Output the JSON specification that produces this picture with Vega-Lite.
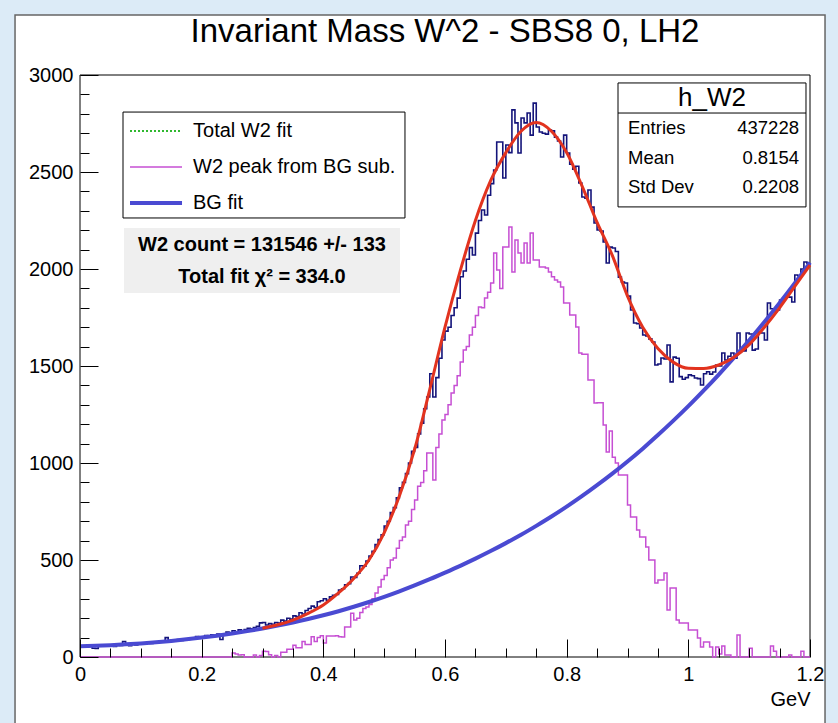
{
  "$schema": "https://vega.github.io/schema/vega-lite/v6.json",
  "width": 730,
  "height": 582,
  "autosize": {"type": "none"},
  "padding": {"left": 80, "top": 75, "right": 28, "bottom": 66},
  "background": "#dcebf7",
  "config": {"view": {"stroke": null}, "font": "Liberation Sans", "text": {"font": "Liberation Sans", "color": "black"}},
  "datasets": {
    "one": [{}],
    "hist": [
      {"x":0.000,"n":52,"p":0},{"x":0.005,"n":57,"p":0},{"x":0.010,"n":55,"p":0},{"x":0.015,"n":60,"p":0},{"x":0.020,"n":45,"p":0},{"x":0.025,"n":44,"p":0},{"x":0.030,"n":58,"p":0},{"x":0.035,"n":62,"p":0},{"x":0.040,"n":56,"p":0},{"x":0.045,"n":60,"p":0},
      {"x":0.050,"n":63,"p":0},{"x":0.055,"n":55,"p":0},{"x":0.060,"n":64,"p":0},{"x":0.065,"n":60,"p":0},{"x":0.070,"n":80,"p":0},{"x":0.075,"n":66,"p":0},{"x":0.080,"n":58,"p":0},{"x":0.085,"n":70,"p":0},{"x":0.090,"n":62,"p":0},{"x":0.095,"n":68,"p":0},
      {"x":0.100,"n":72,"p":0},{"x":0.105,"n":66,"p":0},{"x":0.110,"n":75,"p":0},{"x":0.115,"n":70,"p":0},{"x":0.120,"n":78,"p":0},{"x":0.125,"n":72,"p":0},{"x":0.130,"n":80,"p":0},{"x":0.135,"n":76,"p":0},{"x":0.140,"n":100,"p":0},{"x":0.145,"n":78,"p":0},
      {"x":0.150,"n":86,"p":0},{"x":0.155,"n":82,"p":0},{"x":0.160,"n":90,"p":0},{"x":0.165,"n":85,"p":0},{"x":0.170,"n":94,"p":0},{"x":0.175,"n":90,"p":0},{"x":0.180,"n":98,"p":0},{"x":0.185,"n":95,"p":0},{"x":0.190,"n":105,"p":0},{"x":0.195,"n":100,"p":0},
      {"x":0.200,"n":104,"p":0},{"x":0.205,"n":110,"p":0},{"x":0.210,"n":106,"p":0},{"x":0.215,"n":115,"p":0},{"x":0.220,"n":112,"p":0},{"x":0.225,"n":118,"p":0},{"x":0.230,"n":90,"p":0},{"x":0.235,"n":120,"p":0},{"x":0.240,"n":128,"p":0},{"x":0.245,"n":124,"p":0},
      {"x":0.250,"n":135,"p":20},{"x":0.255,"n":130,"p":15},{"x":0.260,"n":140,"p":10},{"x":0.265,"n":136,"p":12},{"x":0.270,"n":142,"p":0},{"x":0.275,"n":148,"p":0},{"x":0.280,"n":145,"p":0},{"x":0.285,"n":152,"p":10},{"x":0.290,"n":158,"p":0},{"x":0.295,"n":176,"p":8},
      {"x":0.300,"n":178,"p":30},{"x":0.305,"n":165,"p":28},{"x":0.310,"n":172,"p":12},{"x":0.315,"n":168,"p":0},{"x":0.320,"n":178,"p":8},{"x":0.325,"n":175,"p":0},{"x":0.330,"n":190,"p":25},{"x":0.335,"n":185,"p":25},{"x":0.340,"n":200,"p":40},{"x":0.345,"n":195,"p":40},
      {"x":0.350,"n":212,"p":60},{"x":0.355,"n":208,"p":48},{"x":0.360,"n":228,"p":48},{"x":0.365,"n":222,"p":80},{"x":0.370,"n":240,"p":65},{"x":0.375,"n":250,"p":65},{"x":0.380,"n":262,"p":105},{"x":0.385,"n":255,"p":80},{"x":0.390,"n":285,"p":100},{"x":0.395,"n":290,"p":110},
      {"x":0.400,"n":300,"p":72},{"x":0.405,"n":292,"p":108},{"x":0.410,"n":310,"p":108},{"x":0.415,"n":318,"p":108},{"x":0.420,"n":322,"p":110},{"x":0.425,"n":345,"p":105},{"x":0.430,"n":352,"p":103},{"x":0.435,"n":372,"p":155},{"x":0.440,"n":378,"p":155},{"x":0.445,"n":412,"p":225},
      {"x":0.450,"n":410,"p":191},{"x":0.455,"n":432,"p":200},{"x":0.460,"n":470,"p":230},{"x":0.465,"n":468,"p":250},{"x":0.470,"n":495,"p":258},{"x":0.475,"n":520,"p":270},{"x":0.480,"n":545,"p":300},{"x":0.485,"n":580,"p":330},{"x":0.490,"n":605,"p":361},{"x":0.495,"n":630,"p":400},
      {"x":0.500,"n":675,"p":420},{"x":0.505,"n":700,"p":460},{"x":0.510,"n":745,"p":500},{"x":0.515,"n":770,"p":510},{"x":0.520,"n":820,"p":560},{"x":0.525,"n":872,"p":600},{"x":0.530,"n":900,"p":619},{"x":0.535,"n":945,"p":680},{"x":0.540,"n":1000,"p":700},{"x":0.545,"n":1060,"p":760},
      {"x":0.550,"n":1080,"p":809},{"x":0.555,"n":1150,"p":880},{"x":0.560,"n":1205,"p":900},{"x":0.565,"n":1280,"p":960},{"x":0.570,"n":1340,"p":1052},{"x":0.575,"n":1460,"p":1052},{"x":0.580,"n":1340,"p":912},{"x":0.585,"n":1440,"p":1080},{"x":0.590,"n":1540,"p":1150},{"x":0.595,"n":1634,"p":1222},
      {"x":0.600,"n":1680,"p":1250},{"x":0.605,"n":1700,"p":1300},{"x":0.610,"n":1760,"p":1361},{"x":0.615,"n":1800,"p":1400},{"x":0.620,"n":1850,"p":1450},{"x":0.625,"n":1960,"p":1520},{"x":0.630,"n":1990,"p":1582},{"x":0.635,"n":2050,"p":1600},{"x":0.640,"n":2110,"p":1660},{"x":0.645,"n":2072,"p":1700},
      {"x":0.650,"n":2185,"p":1760},{"x":0.655,"n":2250,"p":1804},{"x":0.660,"n":2304,"p":1800},{"x":0.665,"n":2278,"p":1850},{"x":0.670,"n":2380,"p":1880},{"x":0.675,"n":2440,"p":1928},{"x":0.680,"n":2510,"p":2082},{"x":0.685,"n":2655,"p":1995},{"x":0.690,"n":2655,"p":1900},{"x":0.695,"n":2469,"p":2113},
      {"x":0.700,"n":2639,"p":2113},{"x":0.705,"n":2600,"p":2216},{"x":0.710,"n":2820,"p":1985},{"x":0.715,"n":2753,"p":2149},{"x":0.720,"n":2598,"p":2082},{"x":0.725,"n":2778,"p":2031},{"x":0.730,"n":2753,"p":2134},{"x":0.735,"n":2804,"p":2031},{"x":0.740,"n":2690,"p":2185},{"x":0.745,"n":2855,"p":2046},
      {"x":0.750,"n":2732,"p":2046},{"x":0.755,"n":2706,"p":2010},{"x":0.760,"n":2700,"p":2010},{"x":0.765,"n":2695,"p":2005},{"x":0.770,"n":2716,"p":1985},{"x":0.775,"n":2712,"p":1960},{"x":0.780,"n":2680,"p":1943},{"x":0.785,"n":2660,"p":1933},{"x":0.790,"n":2577,"p":1907},{"x":0.795,"n":2690,"p":1825},
      {"x":0.800,"n":2598,"p":1825},{"x":0.805,"n":2540,"p":1763},{"x":0.810,"n":2515,"p":1763},{"x":0.815,"n":2530,"p":1701},{"x":0.820,"n":2443,"p":1567},{"x":0.825,"n":2371,"p":1560},{"x":0.830,"n":2365,"p":1560},{"x":0.835,"n":2407,"p":1428},{"x":0.840,"n":2319,"p":1428},{"x":0.845,"n":2237,"p":1309},
      {"x":0.850,"n":2201,"p":1310},{"x":0.855,"n":2195,"p":1310},{"x":0.860,"n":2139,"p":1196},{"x":0.865,"n":2031,"p":1057},{"x":0.870,"n":2113,"p":1165},{"x":0.875,"n":2108,"p":1030},{"x":0.880,"n":2090,"p":1000},{"x":0.885,"n":1958,"p":938},{"x":0.890,"n":1933,"p":938},{"x":0.895,"n":1928,"p":938},
      {"x":0.900,"n":1860,"p":783},{"x":0.905,"n":1789,"p":722},{"x":0.910,"n":1722,"p":722},{"x":0.915,"n":1718,"p":655},{"x":0.920,"n":1696,"p":619},{"x":0.925,"n":1660,"p":619},{"x":0.930,"n":1655,"p":567},{"x":0.935,"n":1640,"p":500},{"x":0.940,"n":1624,"p":500},{"x":0.945,"n":1505,"p":381},
      {"x":0.950,"n":1510,"p":397},{"x":0.955,"n":1541,"p":397},{"x":0.960,"n":1536,"p":433},{"x":0.965,"n":1608,"p":242},{"x":0.970,"n":1418,"p":356},{"x":0.975,"n":1546,"p":356},{"x":0.980,"n":1540,"p":191},{"x":0.985,"n":1445,"p":175},{"x":0.990,"n":1432,"p":175},{"x":0.995,"n":1440,"p":175},
      {"x":1.000,"n":1454,"p":139},{"x":1.005,"n":1450,"p":139},{"x":1.010,"n":1438,"p":139},{"x":1.015,"n":1435,"p":98},{"x":1.020,"n":1402,"p":52},{"x":1.025,"n":1460,"p":77},{"x":1.030,"n":1470,"p":77},{"x":1.035,"n":1458,"p":52},{"x":1.040,"n":1469,"p":0},{"x":1.045,"n":1505,"p":52},
      {"x":1.050,"n":1500,"p":15},{"x":1.055,"n":1567,"p":57},{"x":1.060,"n":1531,"p":10},{"x":1.065,"n":1550,"p":10},{"x":1.070,"n":1567,"p":0},{"x":1.075,"n":1540,"p":0},{"x":1.080,"n":1670,"p":113},{"x":1.085,"n":1582,"p":0},{"x":1.090,"n":1578,"p":0},{"x":1.095,"n":1670,"p":0},
      {"x":1.100,"n":1665,"p":45},{"x":1.105,"n":1582,"p":0},{"x":1.110,"n":1588,"p":0},{"x":1.115,"n":1675,"p":0},{"x":1.120,"n":1670,"p":0},{"x":1.125,"n":1634,"p":0},{"x":1.130,"n":1825,"p":0},{"x":1.135,"n":1795,"p":57},{"x":1.140,"n":1780,"p":30},{"x":1.145,"n":1789,"p":0},
      {"x":1.150,"n":1840,"p":0},{"x":1.155,"n":1845,"p":0},{"x":1.160,"n":1860,"p":0},{"x":1.165,"n":1855,"p":10},{"x":1.170,"n":1830,"p":0},{"x":1.175,"n":1969,"p":0},{"x":1.180,"n":1965,"p":0},{"x":1.185,"n":2000,"p":30},{"x":1.190,"n":2036,"p":0},{"x":1.195,"n":2030,"p":0},
      {"x":1.200,"n":2030,"p":0}
    ],
    "bg": [
      {"x":0.0,"y":55},{"x":0.025,"y":57.6},{"x":0.05,"y":61},{"x":0.075,"y":65.1},{"x":0.1,"y":70},{"x":0.125,"y":76},{"x":0.15,"y":83},{"x":0.175,"y":91},{"x":0.2,"y":100},{"x":0.225,"y":110},
      {"x":0.25,"y":121},{"x":0.275,"y":133.5},{"x":0.3,"y":147},{"x":0.325,"y":161.8},{"x":0.35,"y":178},{"x":0.375,"y":195.8},{"x":0.4,"y":215},{"x":0.425,"y":236},{"x":0.45,"y":259},{"x":0.475,"y":283.5},
      {"x":0.5,"y":310},{"x":0.525,"y":338.5},{"x":0.55,"y":369},{"x":0.575,"y":401},{"x":0.6,"y":435},{"x":0.625,"y":470},{"x":0.65,"y":507},{"x":0.675,"y":546},{"x":0.7,"y":587},{"x":0.725,"y":630},
      {"x":0.75,"y":676},{"x":0.775,"y":724},{"x":0.8,"y":775},{"x":0.825,"y":829},{"x":0.85,"y":886},{"x":0.875,"y":945.5},{"x":0.9,"y":1008},{"x":0.925,"y":1074},{"x":0.95,"y":1144},{"x":0.975,"y":1217},
      {"x":1.0,"y":1293},{"x":1.025,"y":1373},{"x":1.05,"y":1456},{"x":1.075,"y":1543},{"x":1.1,"y":1633},{"x":1.125,"y":1727},{"x":1.15,"y":1825},{"x":1.175,"y":1927},{"x":1.2,"y":2033}
    ],
    "tot": [
      {"x":0.3,"y":148},{"x":0.325,"y":166},{"x":0.35,"y":190},{"x":0.375,"y":225},{"x":0.4,"y":268},{"x":0.425,"y":330},{"x":0.45,"y":405},{"x":0.475,"y":500},{"x":0.5,"y":640},{"x":0.525,"y":830},
      {"x":0.55,"y":1070},{"x":0.575,"y":1380},{"x":0.6,"y":1700},{"x":0.625,"y":1990},{"x":0.65,"y":2250},{"x":0.675,"y":2455},{"x":0.7,"y":2600},{"x":0.725,"y":2710},{"x":0.75,"y":2755},{"x":0.775,"y":2710},
      {"x":0.8,"y":2600},{"x":0.825,"y":2430},{"x":0.85,"y":2240},{"x":0.875,"y":2070},{"x":0.9,"y":1860},{"x":0.925,"y":1700},{"x":0.95,"y":1590},{"x":0.975,"y":1520},{"x":1.0,"y":1488},{"x":1.025,"y":1487},
      {"x":1.05,"y":1505},{"x":1.075,"y":1545},{"x":1.1,"y":1610},{"x":1.125,"y":1700},{"x":1.15,"y":1800},{"x":1.175,"y":1910},{"x":1.2,"y":2020}
    ]
  },
  "layer": [
    {
      "data": {"name": "one"},
      "mark": {"type": "rect", "fill": "white", "stroke": "#666666", "strokeWidth": 1.5},
      "encoding": {
        "x": {"datum": -0.1068, "type": "quantitative", "axis": null},
        "x2": {"datum": 1.2247},
        "y": {"datum": 3309, "type": "quantitative", "axis": null},
        "y2": {"datum": -420}
      }
    },
    {
      "data": {"name": "one"},
      "mark": {"type": "text", "text": "Invariant Mass W^2 - SBS8 0, LH2", "align": "center", "baseline": "alphabetic", "fontSize": 33},
      "encoding": {"x": {"datum": 0.6, "type": "quantitative", "axis": null}, "y": {"datum": 3170, "type": "quantitative", "axis": null}}
    },
    {
      "data": {"name": "one"},
      "mark": {"type": "rect", "fillOpacity": 0, "stroke": "black", "strokeWidth": 1},
      "encoding": {
        "x": {"datum": 0, "type": "quantitative", "axis": null},
        "x2": {"datum": 1.2},
        "y": {"datum": 0, "type": "quantitative", "axis": null},
        "y2": {"datum": 3000}
      }
    },
    {
      "data": {"name": "hist"},
      "mark": {"type": "line", "interpolate": "step-after", "color": "#14147a", "strokeWidth": 1.6},
      "encoding": {
        "x": {"field": "x", "type": "quantitative", "scale": {"domain": [0, 1.2], "nice": false, "zero": false},
              "axis": {"orient": "bottom", "values": [0, 0.2, 0.4, 0.6, 0.8, 1, 1.2], "format": "~g", "tickSize": -18, "tickColor": "black", "tickWidth": 1, "domain": false, "grid": false, "labelFontSize": 20, "labelFont": "Liberation Sans", "labelColor": "black", "labelPadding": 25, "labelFlush": false, "labelOverlap": false, "title": "GeV", "titleAnchor": "end", "titleAlign": "right", "titleFontSize": 20, "titleFont": "Liberation Sans", "titleFontWeight": "normal", "titleColor": "black", "titlePadding": 5, "zindex": 1}},
        "y": {"field": "n", "type": "quantitative", "scale": {"domain": [0, 3000], "nice": false, "zero": false},
              "axis": {"orient": "left", "values": [0, 500, 1000, 1500, 2000, 2500, 3000], "format": "d", "tickSize": -18, "tickColor": "black", "tickWidth": 1, "domain": false, "grid": false, "labelFontSize": 20, "labelFont": "Liberation Sans", "labelColor": "black", "labelPadding": 25, "labelFlush": false, "labelOverlap": false, "title": null, "zindex": 1}}
      }
    },
    {
      "data": {"name": "hist"},
      "mark": {"type": "line", "interpolate": "step-after", "color": "#c64fd3", "strokeWidth": 1.5},
      "encoding": {
        "x": {"field": "x", "type": "quantitative", "axis": null},
        "y": {"field": "p", "type": "quantitative", "axis": null}
      }
    },
    {
      "data": {"name": "bg"},
      "mark": {"type": "line", "interpolate": "monotone", "color": "#4a4ad2", "strokeWidth": 4},
      "encoding": {
        "x": {"field": "x", "type": "quantitative",
              "axis": {"orient": "bottom", "values": [0.05, 0.1, 0.15, 0.25, 0.3, 0.35, 0.45, 0.5, 0.55, 0.65, 0.7, 0.75, 0.85, 0.9, 0.95, 1.05, 1.1, 1.15], "labels": false, "tickSize": -9, "tickColor": "black", "tickWidth": 1, "domain": false, "grid": false, "title": null, "zindex": 1}},
        "y": {"field": "y", "type": "quantitative",
              "axis": {"orient": "left", "values": [100, 200, 300, 400, 600, 700, 800, 900, 1100, 1200, 1300, 1400, 1600, 1700, 1800, 1900, 2100, 2200, 2300, 2400, 2600, 2700, 2800, 2900], "labels": false, "tickSize": -9, "tickColor": "black", "tickWidth": 1, "domain": false, "grid": false, "title": null, "zindex": 1}}
      }
    },
    {
      "data": {"name": "tot"},
      "mark": {"type": "line", "interpolate": "monotone", "color": "#e2331f", "strokeWidth": 3},
      "encoding": {
        "x": {"field": "x", "type": "quantitative", "axis": null},
        "y": {"field": "y", "type": "quantitative", "axis": null}
      }
    },
    {
      "data": {"name": "one"},
      "mark": {"type": "rect", "fill": "white", "stroke": "black", "strokeWidth": 1},
      "encoding": {
        "x": {"datum": 0.0707, "type": "quantitative", "axis": null},
        "x2": {"datum": 0.5342},
        "y": {"datum": 2809, "type": "quantitative", "axis": null},
        "y2": {"datum": 2263}
      }
    },
    {
      "data": {"name": "one"},
      "mark": {"type": "rule", "color": "#2fb82f", "strokeWidth": 2, "strokeDash": [2, 2]},
      "encoding": {
        "x": {"datum": 0.0822, "type": "quantitative", "axis": null},
        "x2": {"datum": 0.1677},
        "y": {"datum": 2711, "type": "quantitative", "axis": null}
      }
    },
    {
      "data": {"name": "one"},
      "mark": {"type": "rule", "color": "#c64fd3", "strokeWidth": 1.5},
      "encoding": {
        "x": {"datum": 0.0822, "type": "quantitative", "axis": null},
        "x2": {"datum": 0.1677},
        "y": {"datum": 2526, "type": "quantitative", "axis": null}
      }
    },
    {
      "data": {"name": "one"},
      "mark": {"type": "rule", "color": "#4a4ad2", "strokeWidth": 4},
      "encoding": {
        "x": {"datum": 0.0822, "type": "quantitative", "axis": null},
        "x2": {"datum": 0.1677},
        "y": {"datum": 2340, "type": "quantitative", "axis": null}
      }
    },
    {
      "data": {"name": "one"},
      "mark": {"type": "text", "text": "Total W2 fit", "align": "left", "baseline": "middle", "fontSize": 20},
      "encoding": {"x": {"datum": 0.1858, "type": "quantitative", "axis": null}, "y": {"datum": 2711, "type": "quantitative", "axis": null}}
    },
    {
      "data": {"name": "one"},
      "mark": {"type": "text", "text": "W2 peak from BG sub.", "align": "left", "baseline": "middle", "fontSize": 20},
      "encoding": {"x": {"datum": 0.1858, "type": "quantitative", "axis": null}, "y": {"datum": 2526, "type": "quantitative", "axis": null}}
    },
    {
      "data": {"name": "one"},
      "mark": {"type": "text", "text": "BG fit", "align": "left", "baseline": "middle", "fontSize": 20},
      "encoding": {"x": {"datum": 0.1858, "type": "quantitative", "axis": null}, "y": {"datum": 2340, "type": "quantitative", "axis": null}}
    },
    {
      "data": {"name": "one"},
      "mark": {"type": "rect", "fill": "#efefef"},
      "encoding": {
        "x": {"datum": 0.0723, "type": "quantitative", "axis": null},
        "x2": {"datum": 0.526},
        "y": {"datum": 2211, "type": "quantitative", "axis": null},
        "y2": {"datum": 1876}
      }
    },
    {
      "data": {"name": "one"},
      "mark": {"type": "text", "text": "W2 count = 131546 +/- 133", "align": "center", "baseline": "middle", "fontSize": 20, "fontWeight": "bold"},
      "encoding": {"x": {"datum": 0.2992, "type": "quantitative", "axis": null}, "y": {"datum": 2124, "type": "quantitative", "axis": null}}
    },
    {
      "data": {"name": "one"},
      "mark": {"type": "text", "text": "Total fit  χ² = 334.0", "align": "center", "baseline": "middle", "fontSize": 20, "fontWeight": "bold"},
      "encoding": {"x": {"datum": 0.2992, "type": "quantitative", "axis": null}, "y": {"datum": 1959, "type": "quantitative", "axis": null}}
    },
    {
      "data": {"name": "one"},
      "mark": {"type": "rect", "fill": "white", "stroke": "black", "strokeWidth": 1},
      "encoding": {
        "x": {"datum": 0.8844, "type": "quantitative", "axis": null},
        "x2": {"datum": 1.1934},
        "y": {"datum": 2959, "type": "quantitative", "axis": null},
        "y2": {"datum": 2320}
      }
    },
    {
      "data": {"name": "one"},
      "mark": {"type": "rule", "color": "black", "strokeWidth": 1},
      "encoding": {
        "x": {"datum": 0.8844, "type": "quantitative", "axis": null},
        "x2": {"datum": 1.1934},
        "y": {"datum": 2804, "type": "quantitative", "axis": null}
      }
    },
    {
      "data": {"name": "one"},
      "mark": {"type": "text", "text": "h_W2", "align": "center", "baseline": "middle", "fontSize": 26},
      "encoding": {"x": {"datum": 1.0389, "type": "quantitative", "axis": null}, "y": {"datum": 2881, "type": "quantitative", "axis": null}}
    },
    {
      "data": {"name": "one"},
      "mark": {"type": "text", "text": "Entries", "align": "left", "baseline": "middle", "fontSize": 18.5},
      "encoding": {"x": {"datum": 0.9008, "type": "quantitative", "axis": null}, "y": {"datum": 2727, "type": "quantitative", "axis": null}}
    },
    {
      "data": {"name": "one"},
      "mark": {"type": "text", "text": "Mean", "align": "left", "baseline": "middle", "fontSize": 18.5},
      "encoding": {"x": {"datum": 0.9008, "type": "quantitative", "axis": null}, "y": {"datum": 2572, "type": "quantitative", "axis": null}}
    },
    {
      "data": {"name": "one"},
      "mark": {"type": "text", "text": "Std Dev", "align": "left", "baseline": "middle", "fontSize": 18.5},
      "encoding": {"x": {"datum": 0.9008, "type": "quantitative", "axis": null}, "y": {"datum": 2423, "type": "quantitative", "axis": null}}
    },
    {
      "data": {"name": "one"},
      "mark": {"type": "text", "text": "437228", "align": "right", "baseline": "middle", "fontSize": 18.5},
      "encoding": {"x": {"datum": 1.1819, "type": "quantitative", "axis": null}, "y": {"datum": 2727, "type": "quantitative", "axis": null}}
    },
    {
      "data": {"name": "one"},
      "mark": {"type": "text", "text": "0.8154", "align": "right", "baseline": "middle", "fontSize": 18.5},
      "encoding": {"x": {"datum": 1.1819, "type": "quantitative", "axis": null}, "y": {"datum": 2572, "type": "quantitative", "axis": null}}
    },
    {
      "data": {"name": "one"},
      "mark": {"type": "text", "text": "0.2208", "align": "right", "baseline": "middle", "fontSize": 18.5},
      "encoding": {"x": {"datum": 1.1819, "type": "quantitative", "axis": null}, "y": {"datum": 2423, "type": "quantitative", "axis": null}}
    }
  ],
  "resolve": {"axis": {"x": "independent", "y": "independent"}}
}
